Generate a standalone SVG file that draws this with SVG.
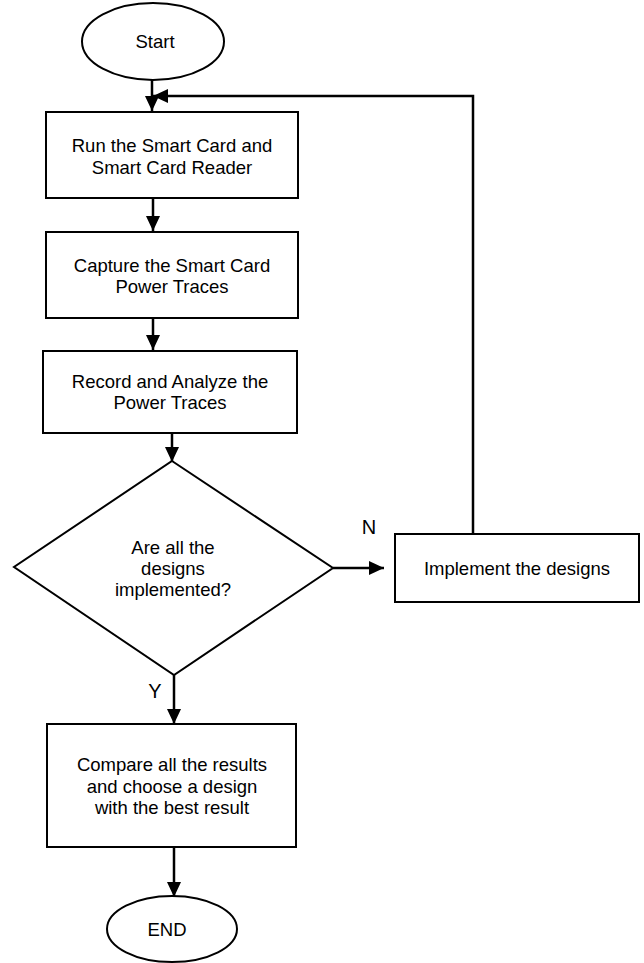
<svg xmlns="http://www.w3.org/2000/svg" width="644" height="963" viewBox="0 0 644 963">
  <style>
    .shape { fill: #ffffff; stroke: #000000; stroke-width: 2; }
    .label { font-family: "Liberation Sans", Arial, sans-serif; font-size: 18.5px; fill: #000000; text-anchor: middle; }
    .tag { font-family: "Liberation Sans", Arial, sans-serif; font-size: 20px; fill: #000000; text-anchor: middle; }
    .link { fill: none; stroke: #000000; stroke-width: 2.5; }
  </style>
  <defs>
    <marker id="arrow" markerUnits="userSpaceOnUse" markerWidth="16" markerHeight="16" viewBox="0 0 16 16" refX="15" refY="8" orient="auto">
      <path d="M0,1 L15,8 L0,15 Z" fill="#000000"/>
    </marker>
  </defs>

  <rect width="644" height="963" fill="#ffffff"/>

  <g id="connectors">
    <line class="link" x1="152" y1="80" x2="152" y2="111" marker-end="url(#arrow)"/>
    <polyline class="link" points="473,534 473,96 153,96" marker-end="url(#arrow)"/>
    <line class="link" x1="153" y1="198" x2="153" y2="231" marker-end="url(#arrow)"/>
    <line class="link" x1="153" y1="318" x2="153" y2="350" marker-end="url(#arrow)"/>
    <line class="link" x1="172" y1="433" x2="172" y2="462" marker-end="url(#arrow)"/>
    <line class="link" x1="333" y1="568" x2="384" y2="568" marker-end="url(#arrow)"/>
    <line class="link" x1="174" y1="675" x2="174" y2="724" marker-end="url(#arrow)"/>
    <line class="link" x1="174" y1="847" x2="174" y2="897" marker-end="url(#arrow)"/>
  </g>

  <g id="start">
    <ellipse class="shape" cx="153" cy="41.5" rx="71" ry="38.5"/>
    <text class="label" x="155" y="48">Start</text>
  </g>

  <g id="run">
    <rect class="shape" x="46" y="112" width="252" height="86"/>
    <text class="label" x="172" y="152">Run the Smart Card and</text>
    <text class="label" x="172" y="174">Smart Card Reader</text>
  </g>

  <g id="capture">
    <rect class="shape" x="46" y="232" width="252" height="86"/>
    <text class="label" x="172" y="272">Capture the Smart Card</text>
    <text class="label" x="172" y="293">Power Traces</text>
  </g>

  <g id="record">
    <rect class="shape" x="43" y="351" width="254" height="82"/>
    <text class="label" x="170" y="388">Record and Analyze the</text>
    <text class="label" x="170" y="409">Power Traces</text>
  </g>

  <g id="decision">
    <polygon class="shape" points="172,461 333,568 174,675 14,567"/>
    <text class="label" x="173" y="554">Are all the</text>
    <text class="label" x="173" y="575">designs</text>
    <text class="label" x="173" y="596">implemented?</text>
  </g>

  <g id="implement">
    <rect class="shape" x="395" y="534" width="244" height="68"/>
    <text class="label" x="517" y="575">Implement the designs</text>
  </g>

  <g id="compare">
    <rect class="shape" x="47" y="724" width="249" height="123"/>
    <text class="label" x="172" y="771">Compare all the results</text>
    <text class="label" x="172" y="793">and choose a design</text>
    <text class="label" x="172" y="814">with the best result</text>
  </g>

  <g id="end">
    <ellipse class="shape" cx="172" cy="929" rx="65" ry="33"/>
    <text class="label" x="167" y="936">END</text>
  </g>

  <g id="branch-labels">
    <text class="tag" x="369" y="534">N</text>
    <text class="tag" x="155" y="698">Y</text>
  </g>
</svg>
